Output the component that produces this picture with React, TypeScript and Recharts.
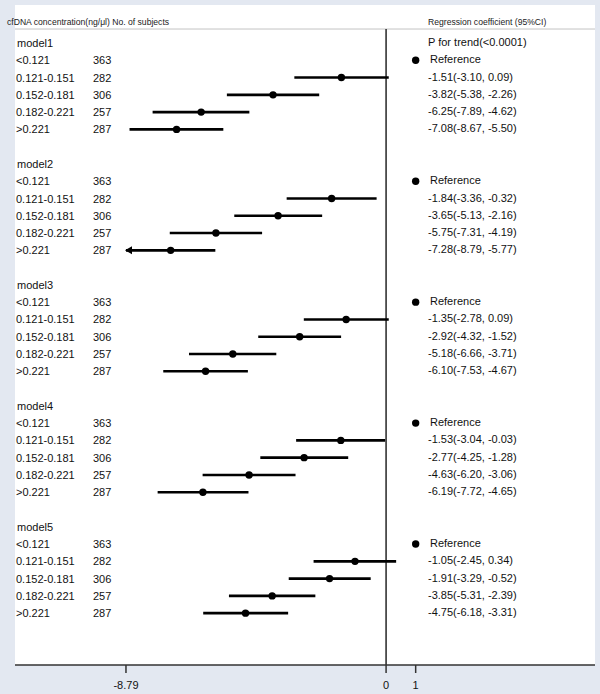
import React from 'react';
import { ScatterChart, Scatter, XAxis, YAxis, CartesianGrid, ReferenceLine, Customized } from 'recharts';

const MODELS = ['model1', 'model2', 'model3', 'model4', 'model5'];
const GROUPS = ['<0.121', '0.121-0.151', '0.152-0.181', '0.182-0.221', '>0.221'];
const COUNTS = [363, 282, 306, 257, 287];
const P_TREND = 'P for trend(<0.0001)';
const REF_LABEL = 'Reference';
const REF_VALUE = 1;
const X_TICKS = [-8.79, 0, 1];

// estimates / lower / upper for groups 2..5, per model
const EST = [
  [-1.51, -3.82, -6.25, -7.08],
  [-1.84, -3.65, -5.75, -7.28],
  [-1.35, -2.92, -5.18, -6.10],
  [-1.53, -2.77, -4.63, -6.19],
  [-1.05, -1.91, -3.85, -4.75],
];
const LOW = [
  [-3.10, -5.38, -7.89, -8.67],
  [-3.36, -5.13, -7.31, -8.79],
  [-2.78, -4.32, -6.66, -7.53],
  [-3.04, -4.25, -6.20, -7.72],
  [-2.45, -3.29, -5.31, -6.18],
];
const HIGH = [
  [0.09, -2.26, -4.62, -5.50],
  [-0.32, -2.16, -4.19, -5.77],
  [0.09, -1.52, -3.71, -4.67],
  [-0.03, -1.28, -3.06, -4.65],
  [0.34, -0.52, -2.39, -3.31],
];

const FONT = '"Liberation Sans", Arial, sans-serif';
const BG = '#e3e8f1';
const INK = '#111';
const BLOCK = 7;

const slot = (m: number, i: number) => m * BLOCK + 1 + i;
const fmt = (v: number) => v.toFixed(2);

const modelLabels = MODELS.map((name, m) => ({ x: 0, y: m * BLOCK, label: name }));
const groupLabels: any[] = [];
const countLabels: any[] = [];
const rightLabels: any[] = [];
const estPoints: any[] = [];
const refPoints: any[] = [];
const ciSeries: any[][] = [];

MODELS.forEach((_, m) => {
  rightLabels.push({ x: 0, y: m * BLOCK, label: m === 0 ? P_TREND : '' });
  GROUPS.forEach((g, i) => {
    groupLabels.push({ x: 0, y: slot(m, i), label: g });
    countLabels.push({ x: 0, y: slot(m, i), label: String(COUNTS[i]) });
    if (i === 0) {
      refPoints.push({ x: REF_VALUE, y: slot(m, i) });
      rightLabels.push({ x: 0, y: slot(m, i), label: REF_LABEL, ref: true });
    } else {
      const e = EST[m][i - 1], lo = LOW[m][i - 1], hi = HIGH[m][i - 1];
      estPoints.push({ x: e, y: slot(m, i) });
      rightLabels.push({ x: 0, y: slot(m, i), label: `${fmt(e)}(${fmt(lo)}, ${fmt(hi)})` });
      ciSeries.push([
        { x: lo, y: slot(m, i), arrow: lo <= X_TICKS[0] },
        { x: hi, y: slot(m, i), arrow: false },
      ]);
    }
  });
});

const textAt = (px: number, size = 11) => (props: any) => (
  <text x={px} y={props.cy} dominantBaseline="central" fontSize={size} fontFamily={FONT} fill={INK}>
    {props.payload.label}
  </text>
);

const rightText = (props: any) => (
  <text x={props.payload.ref ? 430 : 428} y={props.cy - 1} dominantBaseline="central" fontSize={11} fontFamily={FONT} fill={INK}>
    {props.payload.label}
  </text>
);

const dot = (props: any) => <circle cx={props.cx} cy={props.cy} r={3.7} fill="#000" />;

const ciEnd = (props: any) =>
  props.payload.arrow ? (
    <path d={`M${props.cx - 1},${props.cy} L${props.cx + 6},${props.cy - 4} L${props.cx + 6},${props.cy + 4} Z`} fill="#000" />
  ) : (
    <g />
  );

const Headers = () => (
  <g fontFamily={FONT} fill="#222" fontSize={8.6}>
    <text x={7} y={22} dominantBaseline="central">cfDNA concentration(ng/μl) No. of subjects</text>
    <text x={428} y={22} dominantBaseline="central">Regression coefficient (95%CI)</text>
  </g>
);

export default function App() {
  return (
    <div style={{ position: 'absolute', left: 0, top: 0, width: 600, height: 694, background: BG }}>
      <ScatterChart width={600} height={694} margin={{ top: 5, right: 5, left: 15, bottom: 0 }}>
        <CartesianGrid horizontal={false} vertical={false} fill="#ffffff" stroke="none" />
        <XAxis
          type="number"
          dataKey="x"
          domain={[-12.54, 7.06]}
          allowDataOverflow
          ticks={X_TICKS}
          interval={0}
          height={29}
          tickSize={8}
          tickMargin={8}
          axisLine={{ stroke: '#333', strokeWidth: 1.5 }}
          tickLine={{ stroke: '#333', strokeWidth: 1.5 }}
          tick={{ fontSize: 11, fill: INK, fontFamily: FONT }}
          tickFormatter={(v: number) => String(v)}
        />
        <YAxis type="number" dataKey="y" domain={[-2.2, 36]} reversed hide allowDataOverflow />
        <ReferenceLine y={-0.81} stroke="#c4c4c4" strokeWidth={1} />
        <ReferenceLine segment={[{ x: 0, y: -0.81 }, { x: 0, y: 36 }]} stroke="#333" strokeWidth={1.6} />
        {ciSeries.map((d, k) => (
          <Scatter
            key={'ci' + k}
            data={d}
            line={{ stroke: '#000', strokeWidth: 2.6 }}
            shape={ciEnd}
            isAnimationActive={false}
          />
        ))}
        <Scatter data={estPoints} shape={dot} isAnimationActive={false} />
        <Scatter data={refPoints} shape={dot} isAnimationActive={false} />
        <Scatter data={modelLabels} shape={textAt(17)} isAnimationActive={false} />
        <Scatter data={groupLabels} shape={textAt(16)} isAnimationActive={false} />
        <Scatter data={countLabels} shape={textAt(93)} isAnimationActive={false} />
        <Scatter data={rightLabels} shape={rightText} isAnimationActive={false} />
        <Customized component={Headers} />
      </ScatterChart>
    </div>
  );
}
